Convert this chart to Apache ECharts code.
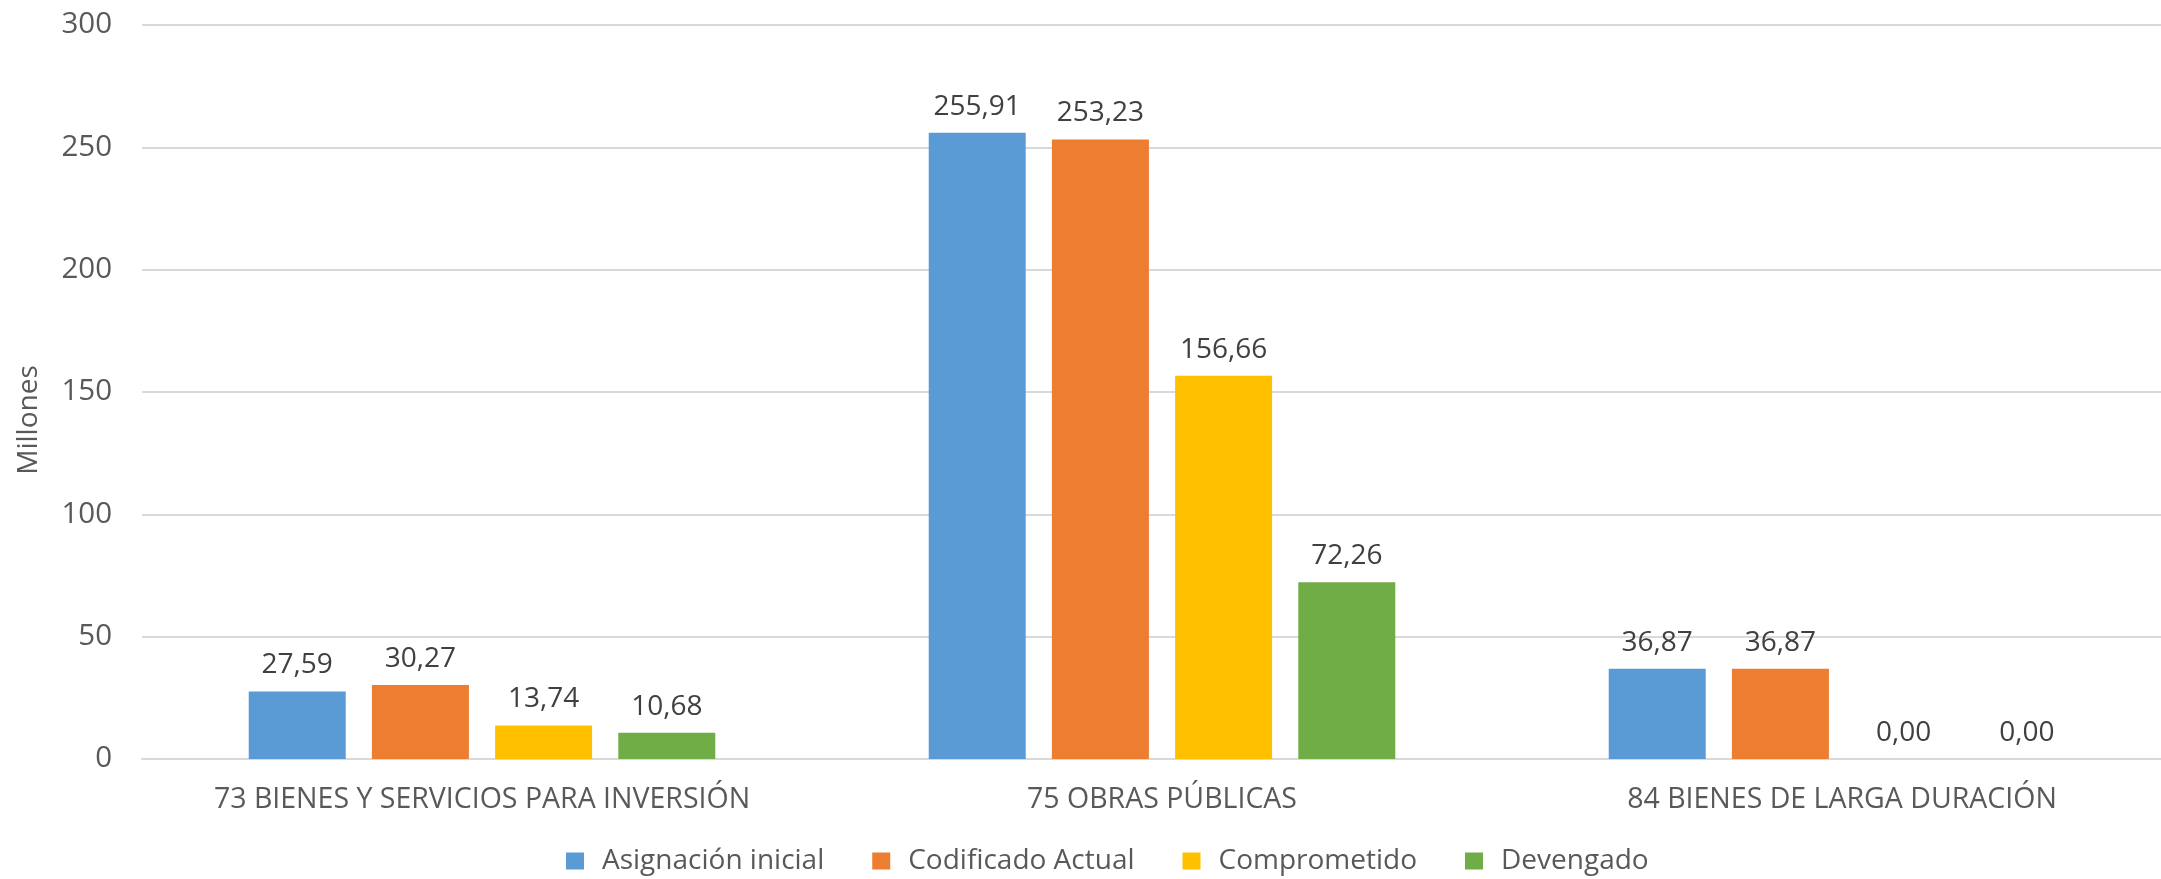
<!DOCTYPE html>
<html>
<head>
<meta charset="utf-8">
<script src="https://cdn.jsdelivr.net/npm/echarts@6/dist/echarts.min.js"></script>
<style>
html,body{margin:0;padding:0;background:#fff;}
#chart{width:2161px;height:879px;}
</style>
</head>
<body>
<div id="chart"></div>
<script>
const categories = ['73 BIENES Y SERVICIOS PARA INVERSIÓN', '75 OBRAS PÚBLICAS', '84 BIENES DE LARGA DURACIÓN'];
const seriesNames = ['Asignación inicial', 'Codificado Actual', 'Comprometido', 'Devengado'];
const asignacionInicial = [27.59, 255.91, 36.87];
const codificadoActual = [30.27, 253.23, 36.87];
const comprometido = [13.74, 156.66, 0.00];
const devengado = [10.68, 72.26, 0.00];
const yTicks = { min: 0, max: 300, interval: 50 };
const axisTitle = 'Millones';

const colors = ['#5B9BD5', '#ED7D31', '#FFC000', '#70AD47'];
const FONT = 'Open Sans';
const seriesData = [asignacionInicial, codificadoActual, comprometido, devengado];

const chart = echarts.init(document.getElementById('chart'));
chart.setOption({
  animation: false,
  textStyle: { fontFamily: FONT },
  color: colors,
  grid: { left: 142, width: 2040, top: 25, bottom: 120, containLabel: false, outerBoundsMode: 'none' },
  legend: {
    top: 847,
    left: 566,
    padding: 0,
    itemWidth: 18,
    itemHeight: 17,
    itemGap: 48,
    icon: 'rect',
    textStyle: { fontSize: 28, color: '#595959', fontFamily: FONT, padding: [0, 0, 0, 13] },
    data: seriesNames
  },
  xAxis: {
    type: 'category',
    data: categories,
    axisTick: { show: false },
    axisLine: { lineStyle: { color: '#D9D9D9', width: 2 } },
    axisLabel: { interval: 0, fontSize: 28.5, color: '#595959', margin: 26, fontFamily: FONT }
  },
  yAxis: {
    type: 'value',
    min: yTicks.min, max: yTicks.max, interval: yTicks.interval,
    axisLine: { show: false },
    axisTick: { show: false },
    splitLine: { lineStyle: { color: '#D9D9D9', width: 2 } },
    axisLabel: { fontSize: 29.5, color: '#595959', margin: 30, fontFamily: FONT }
  },
  graphic: [{
    type: 'text',
    x: 29, y: 420,
    rotation: Math.PI / 2,
    style: { text: axisTitle, fontSize: 28, fill: '#595959', fontFamily: FONT, textAlign: 'center', textVerticalAlign: 'middle' }
  }],
  series: seriesNames.map((name, i) => ({
    name,
    type: 'bar',
    data: seriesData[i],
    barWidth: 97,
    barGap: '27%',
    itemStyle: { color: colors[i] },
    label: {
      show: true,
      position: 'top',
      distance: 12,
      fontSize: 28,
      color: '#404040',
      fontFamily: FONT,
      formatter: p => p.value.toFixed(2).replace('.', ',')
    }
  }))
});
</script>
</body>
</html>
